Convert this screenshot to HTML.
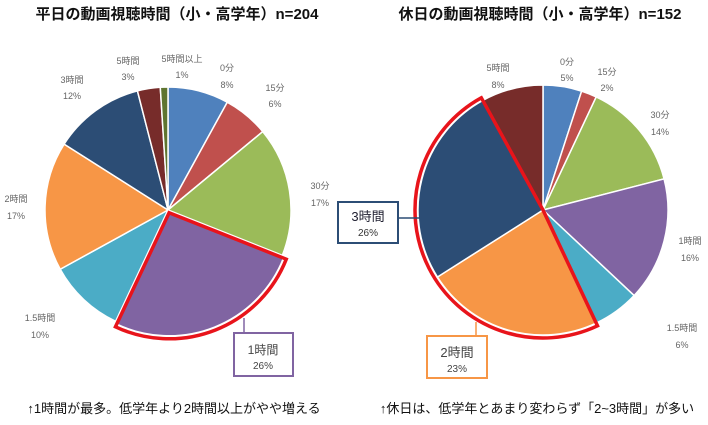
<!DOCTYPE html><html><head><meta charset="utf-8"><style>
body{margin:0;width:708px;height:420px;background:#fff;overflow:hidden}
svg text{font-family:"Liberation Sans","Noto Sans CJK JP",sans-serif}
</style></head><body>
<svg id="s" width="708" height="420" xmlns="http://www.w3.org/2000/svg">
<text x="177" y="19" text-anchor="middle" font-size="15" font-weight="bold" fill="#111">平日の動画視聴時間（小・高学年）n=204</text>
<text x="540" y="19" text-anchor="middle" font-size="15" font-weight="bold" fill="#111">休日の動画視聴時間（小・高学年）n=152</text>
<g id="p1"></g><g id="p2"></g>
<g font-size="9" fill="#666" text-anchor="middle">
<text x="182" y="62">5時間以上</text><text x="182" y="78">1%</text>
<text x="128" y="64">5時間</text><text x="128" y="80">3%</text>
<text x="72" y="83">3時間</text><text x="72" y="99">12%</text>
<text x="227" y="71">0分</text><text x="227" y="88">8%</text>
<text x="275" y="91">15分</text><text x="275" y="107">6%</text>
<text x="320" y="189">30分</text><text x="320" y="206">17%</text>
<text x="16" y="202">2時間</text><text x="16" y="219">17%</text>
<text x="40" y="321">1.5時間</text><text x="40" y="338">10%</text>
<text x="498" y="71">5時間</text><text x="498" y="88">8%</text>
<text x="567" y="65">0分</text><text x="567" y="81">5%</text>
<text x="607" y="75">15分</text><text x="607" y="91">2%</text>
<text x="660" y="118">30分</text><text x="660" y="135">14%</text>
<text x="690" y="244">1時間</text><text x="690" y="261">16%</text>
<text x="682" y="331">1.5時間</text><text x="682" y="348">6%</text>
</g>
<line x1="244" y1="318" x2="244" y2="333" stroke="#8064a2" stroke-width="1.5"/>
<rect x="234" y="333" width="59" height="43" fill="#fff" stroke="#8064a2" stroke-width="2"/>
<text x="263" y="354" text-anchor="middle" font-size="12" fill="#444">1時間</text>
<text x="263" y="369" text-anchor="middle" font-size="10" fill="#444">26%</text>
<line x1="476" y1="322" x2="476" y2="336" stroke="#f79646" stroke-width="1.5"/>
<rect x="427" y="336" width="60" height="42" fill="#fff" stroke="#f79646" stroke-width="2"/>
<text x="457" y="357" text-anchor="middle" font-size="13" fill="#444">2時間</text>
<text x="457" y="372" text-anchor="middle" font-size="10" fill="#444">23%</text>
<line x1="398" y1="218" x2="420" y2="218" stroke="#2c4d75" stroke-width="1.5"/>
<rect x="338" y="202" width="60" height="41" fill="#fff" stroke="#2c4d75" stroke-width="2"/>
<text x="368" y="221" text-anchor="middle" font-size="13" fill="#223">3時間</text>
<text x="368" y="236" text-anchor="middle" font-size="10" fill="#333">26%</text>
<text x="174" y="413" text-anchor="middle" font-size="13" fill="#111">↑1時間が最多。低学年より2時間以上がやや増える</text>
<text x="537" y="413" text-anchor="middle" font-size="13" fill="#111">↑休日は、低学年とあまり変わらず「2~3時間」が多い</text>
</svg>
<script>
function pie(id,cx,cy,r,vals,cols,hl,ex){
 var g=document.getElementById(id),a=0,h="",hs=null,he=null;
 function pt(an,rr,ox,oy){return [(ox||cx)+rr*Math.sin(an*Math.PI*2/100),(oy||cy)-rr*Math.cos(an*Math.PI*2/100)];}
 var mid=0;vals.forEach(function(v,i){if(hl.indexOf(i)>=0){if(hs===null)hs=a;he=a+v;}a+=v;});
 mid=(hs+he)/2;var d=pt(mid,ex,0.0001,0.0001);var dx=d[0],dy=d[1];
 a=0;
 vals.forEach(function(v,i){var ox=cx,oy=cy;if(hl.indexOf(i)>=0){ox=cx+dx;oy=cy+dy;}
  var p1=pt(a,r,ox,oy),p2=pt(a+v,r,ox,oy);
  h+='<path d="M'+ox+','+oy+'L'+p1+'A'+r+','+r+' 0 '+(v>50?1:0)+' 1 '+p2+'Z" fill="'+cols[i]+'" stroke="#fff" stroke-width="1.5"/>';
  a+=v;});
 var ox=cx+dx,oy=cy+dy,R=r+3,q1=pt(hs,R,ox,oy),q2=pt(he,R,ox,oy);
 h+='<path d="M'+ox+','+oy+'L'+q1+'A'+R+','+R+' 0 '+(he-hs>50?1:0)+' 1 '+q2+'Z" fill="none" stroke="#e8141b" stroke-width="3.5" stroke-linejoin="miter"/>';
 g.innerHTML=h;}
pie("p1",168,210,123,[8,6,17,26,10,17,12,3,1],["#4f81bd","#c0504d","#9bbb59","#8064a2","#4bacc6","#f79646","#2c4d75","#772c2a","#5f7530"],[3],3);
pie("p2",543,210,125,[5,2,14,16,6,23,26,8],["#4f81bd","#c0504d","#9bbb59","#8064a2","#4bacc6","#f79646","#2c4d75","#772c2a"],[5,6],0);
</script>
</body></html>
